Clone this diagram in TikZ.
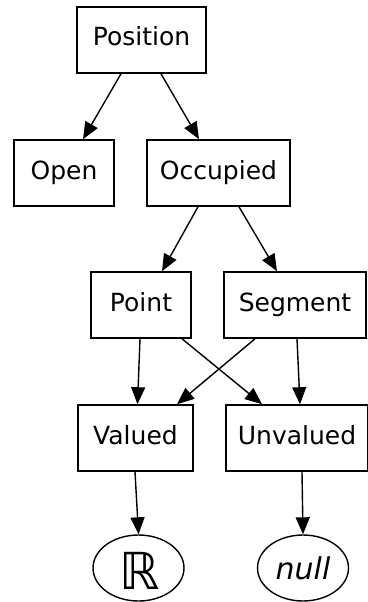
\documentclass[tikz,border=0pt]{standalone}
\usepackage{fontspec}
\setmainfont{DejaVu Sans}
\usetikzlibrary{arrows.meta,shapes.geometric}
\begin{document}
\begin{tikzpicture}[x=1pt,y=-1pt,
  box/.style={draw=black, line width=1.6pt, rectangle, inner sep=0pt,
    minimum height=66pt, text height=18pt, text depth=6pt,
    font=\fontsize{25}{28}\selectfont},
  oval/.style={draw=black, line width=1.4pt, ellipse, inner sep=0pt,
    minimum width=91pt, minimum height=66pt},
  edge/.style={draw=black, line width=1.4pt,
    -{Triangle[length=17pt,width=14pt]}}]
  \useasboundingbox (0,0) rectangle (367,602);

  % class hierarchy
  \node[box, minimum width=129pt] (position) at (141.5,40) {Position};
  \node[box, minimum width=100pt] (open)     at (64,173)   {Open};
  \node[box, minimum width=143pt] (occupied) at (218.5,173) {Occupied};
  \node[box, minimum width=100pt] (point)    at (141,305)  {Point};
  \node[box, minimum width=142pt] (segment)  at (295,305)  {Segment};
  \node[box, minimum width=115pt] (valued)   at (135.5,438) {Valued};
  \node[box, minimum width=142pt] (unvalued) at (297,438)  {Unvalued};

  % value domains
  \node[oval] (reals) at (138.5,568) {};
  \node[font=\fontsize{51}{51}\selectfont] (rsym) at (139.5,571) {ℝ};
  \node[oval] (null) at (303,568) {\fontsize{30}{32}\selectfont\itshape null};

  % edges
  \draw[edge] ([xshift=-20.5pt]position.south) -- ([xshift=19pt]open.north);
  \draw[edge] ([xshift=19.5pt]position.south) -- ([xshift=-19.5pt]occupied.north);
  \draw[edge] ([xshift=-20.5pt]occupied.south) -- ([xshift=21pt]point.north);
  \draw[edge] ([xshift=20.5pt]occupied.south) -- ([xshift=-18pt]segment.north);
  \draw[edge] ([xshift=-1pt]point.south) -- ([xshift=2pt]valued.north);
  \draw[edge] ([xshift=41pt]point.south) -- ([xshift=-35pt]unvalued.north);
  \draw[edge] ([xshift=-40pt]segment.south) -- ([xshift=41.5pt]valued.north);
  \draw[edge] ([xshift=2pt]segment.south) -- ([xshift=3pt]unvalued.north);
  \draw[edge] ([xshift=-0.5pt]valued.south) -- (reals.north);
  \draw[edge] ([xshift=5pt]unvalued.south) -- (null.north);
\end{tikzpicture}
\end{document}
